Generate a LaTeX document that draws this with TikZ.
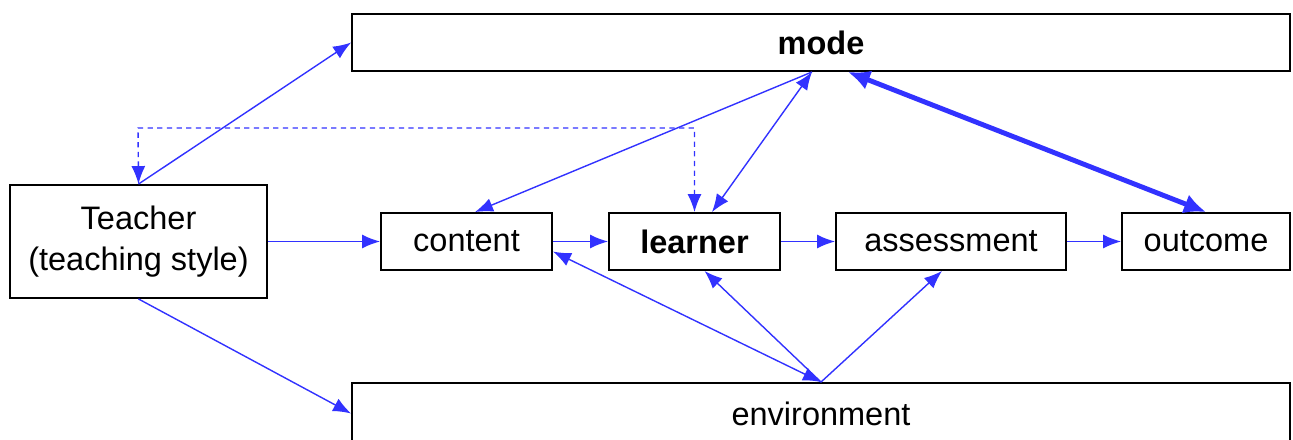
\documentclass[tikz,border=0pt]{standalone}
\usepackage{fontspec}
\setmainfont{Liberation Sans}
\usetikzlibrary{arrows.meta}

\definecolor{linkblue}{RGB}{50,50,255}

\begin{document}
\begin{tikzpicture}[x=0.02cm, y=-0.02cm,
	box/.style={shape=rectangle, draw=black, line width=1.1pt, fill=white, inner sep=0pt,
		minimum height=1.14cm, font=\fontsize{18.5}{23}\selectfont, align=center},
	link/.style={color=linkblue, line width=0.8pt, -{Latex[length=3.6mm,width=2.8mm]}},
	twolink/.style={link, {Latex[length=3.6mm,width=2.8mm]}-{Latex[length=3.6mm,width=2.8mm]}},
	biglink/.style={color=linkblue, line width=2.8pt, {Latex[length=4.4mm,width=4mm]}-{Latex[length=4.4mm,width=4mm]}}]
	\useasboundingbox (0,0) rectangle (1293,439);
	\clip (0,0) rectangle (1293,439);

	\node[box, minimum width=18.76cm] (mode) at (821, 42.5)     {\textbf{mode}};
	\node[box, minimum width=5.14cm, minimum height=2.26cm] (teacher) at (138.5, 241.5) {Teacher\\(teaching style)};
	\node[box, minimum width=3.42cm] (content) at (466.5, 241.5)     {content};
	\node[box, minimum width=3.42cm] (learner) at (694.5, 241.5)     {\textbf{learner}};
	\node[box, minimum width=4.6cm] (assess) at (951, 241.5)     {assessment};
	\node[box, minimum width=3.36cm] (outcome) at (1206, 241.5)     {outcome};
	\node[box, minimum width=18.76cm, minimum height=1.22cm] (env) at (821, 413.5)     {environment};

	\draw[link] (teacher.north) -- (mode.west);
	\draw[link] (teacher.east) -- (content.west);
	\draw[link] (teacher.south) -- (env.west);
	\draw[twolink, dashed, dash pattern=on 3pt off 2.5pt]
		(teacher.north) -- (138, 128) -| (learner.north);

	\draw[link] ([xshift=-0.18cm]mode.south) -- ([xshift=0.17cm]content.north);
	\draw[twolink] ([xshift=-0.18cm]mode.south) -- ([xshift=0.35cm]learner.north);
	\draw[biglink] ([xshift=0.54cm]mode.south) -- (outcome.north);

	\draw[link] (content.east) -- (learner.west);
	\draw[link] (learner.east) -- (assess.west);
	\draw[link] (assess.east) -- (outcome.west);

	\draw[twolink] (env.north) -- ([yshift=-0.2cm]content.east);
	\draw[link] (env.north) -- ([xshift=0.2cm]learner.south);
	\draw[link] (env.north) -- ([xshift=-0.18cm]assess.south);

\end{tikzpicture}
\end{document}
